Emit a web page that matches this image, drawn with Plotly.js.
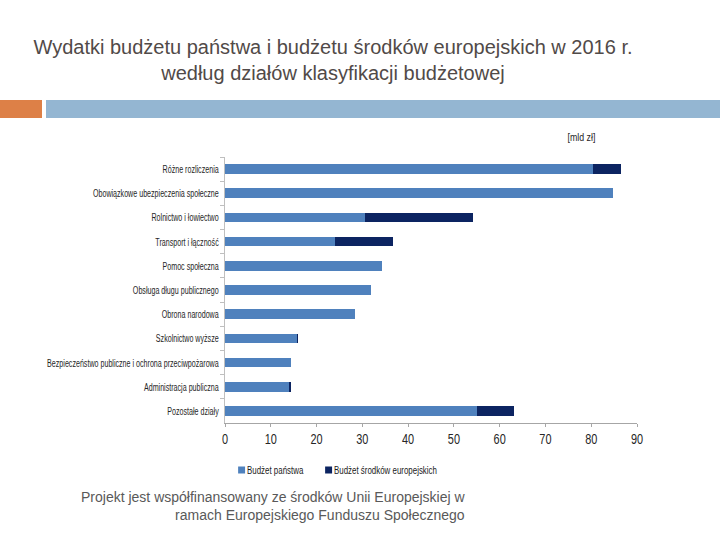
<!DOCTYPE html>
<html>
<head>
<meta charset="utf-8">
<script src="https://cdn.plot.ly/plotly-3.0.1.min.js"></script>
<style>html,body{margin:0;padding:0;background:#fff;}#chart{width:720px;height:540px;}</style>
</head>
<body>
<div id="chart"></div>
<script>
const categories = [
  "Różne rozliczenia",
  "Obowiązkowe ubezpieczenia społeczne",
  "Rolnictwo i łowiectwo",
  "Transport i łączność",
  "Pomoc społeczna",
  "Obsługa długu publicznego",
  "Obrona narodowa",
  "Szkolnictwo wyższe",
  "Bezpieczeństwo publiczne i ochrona przeciwpożarowa",
  "Administracja publiczna",
  "Pozostałe działy"
];
const budzetPanstwa = [80.4, 84.7, 30.6, 24.0, 34.3, 32.0, 28.3, 15.7, 14.4, 14.0, 55.0];
const budzetUE = [6.2, 0, 23.5, 12.8, 0, 0, 0, 0.3, 0, 0.4, 8.1];
const xTicks = [0, 10, 20, 30, 40, 50, 60, 70, 80, 90];
const seriesNames = ["Budżet państwa", "Budżet środków europejskich"];

const sans = "'Liberation Sans', Arial, sans-serif";

const traces = [
  {type: "bar", orientation: "h", name: seriesNames[0], y: categories, x: budzetPanstwa,
   marker: {color: "#4f81bd"}},
  {type: "bar", orientation: "h", name: seriesNames[1], y: categories, x: budzetUE,
   marker: {color: "#0c2461"}}
];

const L = 225, R = 637, T = 157, B = 423;
const px = v => (v - L) / (R - L);
const py = v => (B - v) / (B - T);

const layout = {
  width: 720, height: 540,
  margin: {l: L, r: 720 - R, t: T, b: 540 - B},
  paper_bgcolor: "#ffffff", plot_bgcolor: "#ffffff",
  barmode: "stack", bargap: 0.6,
  showlegend: true,
  title: {
    text: "Wydatki budżetu państwa i budżetu środków europejskich w 2016 r.<br>według działów klasyfikacji budżetowej",
    x: 333 / 720, xanchor: "center", y: 1 - 54 / 540, yanchor: "top", yref: "container",
    font: {family: sans, size: 20, color: "#514a48"}
  },
  xaxis: {
    range: [0, 90], tickvals: xTicks, ticktext: xTicks.map(String),
    showgrid: false, zeroline: false, showline: true, linecolor: "#a6a6a6", linewidth: 1,
    ticks: "outside", ticklen: 3, tickcolor: "#a6a6a6",
    tickfont: {family: sans, size: 14, color: "#262626"}, fixedrange: true
  },
  yaxis: {
    type: "category", categoryorder: "array", categoryarray: categories, autorange: "reversed",
    showgrid: false, zeroline: false, showline: true, linecolor: "#bfbfbf", linewidth: 1,
    ticks: "outside", ticklen: 4, tickcolor: "#bfbfbf", tickson: "boundaries",
    tickfont: {family: sans, size: 11.5, color: "#262626"}, ticklabelstandoff: 3
  },
  legend: {
    orientation: "h", x: px(207), xanchor: "left", y: py(470), yanchor: "middle",
    font: {family: sans, size: 11, color: "#1a1a1a"}, traceorder: "normal",
    itemwidth: 30
  },
  shapes: [
    {type: "rect", xref: "paper", yref: "paper", x0: px(0), x1: px(42), y0: py(118), y1: py(100),
     fillcolor: "#dd8047", line: {width: 0}, layer: "below"},
    {type: "rect", xref: "paper", yref: "paper", x0: px(46), x1: px(720), y0: py(118), y1: py(100),
     fillcolor: "#94b6d2", line: {width: 0}, layer: "below"}
  ],
  annotations: [
    {text: "[mld zł]", xref: "paper", yref: "paper", x: px(581), y: py(137), showarrow: false,
     xanchor: "center", yanchor: "middle", font: {family: sans, size: 11, color: "#262626"}},
    {text: "Projekt jest współfinansowany ze środków Unii Europejskiej w<br>ramach Europejskiego Funduszu Społecznego",
     xref: "paper", yref: "paper", x: px(468), y: py(506), showarrow: false, align: "right",
     xanchor: "right", yanchor: "middle",
     font: {family: sans, size: 14, color: "#595959"}}
  ]
};

// horizontally condense text (imitating a narrow typeface) about its anchor point
function condense(sel, s) {
  document.querySelectorAll(sel).forEach(t => {
    const x = parseFloat(t.getAttribute("x")) || 0;
    const tr = t.getAttribute("transform") || "";
    t.setAttribute("transform", tr + " translate(" + x + ",0) scale(" + s + ",1) translate(" + (-x) + ",0)");
  });
}

Plotly.newPlot("chart", traces, layout, {displayModeBar: false, staticPlot: true}).then(() => {
  let maxW = 0;
  document.querySelectorAll(".ytick text").forEach(t => { maxW = Math.max(maxW, t.getComputedTextLength()); });
  const sy = maxW > 0 ? Math.min(1, 172 / maxW) : 0.7;
  condense(".ytick text", sy);
  condense(".xtick text", 0.78);
  condense(".legendtext", 0.72);
  document.querySelectorAll(".annotation-text-g text").forEach(t => {
    if (t.textContent.indexOf("mld") >= 0) {
      const b = t.getBBox();
      const cx = b.x + b.width / 2;
      const tr = t.getAttribute("transform") || "";
      t.setAttribute("transform", tr + " translate(" + cx + ",0) scale(0.8,1) translate(" + (-cx) + ",0)");
    }
  });
  // smaller legend swatches, placed close to their labels
  document.querySelectorAll(".legendpoints").forEach(g => {
    const tr = g.getAttribute("transform") || "";
    g.setAttribute("transform", tr + " translate(23,0) scale(0.58)");
  });
  // tighten spacing between the legend entries (labels were condensed after layout)
  const items = document.querySelectorAll(".legend .traces");
  if (items.length > 1) {
    const m = /translate\(\s*([-\d.]+)[ ,]+([-\d.]+)\s*\)/.exec(items[0].getAttribute("transform") || "");
    if (m) {
      const a = parseFloat(m[1]), b = parseFloat(m[2]);
      items[1].setAttribute("transform", "translate(" + (a + 87) + "," + b + ")");
    }
  }
});
</script>
</body>
</html>
